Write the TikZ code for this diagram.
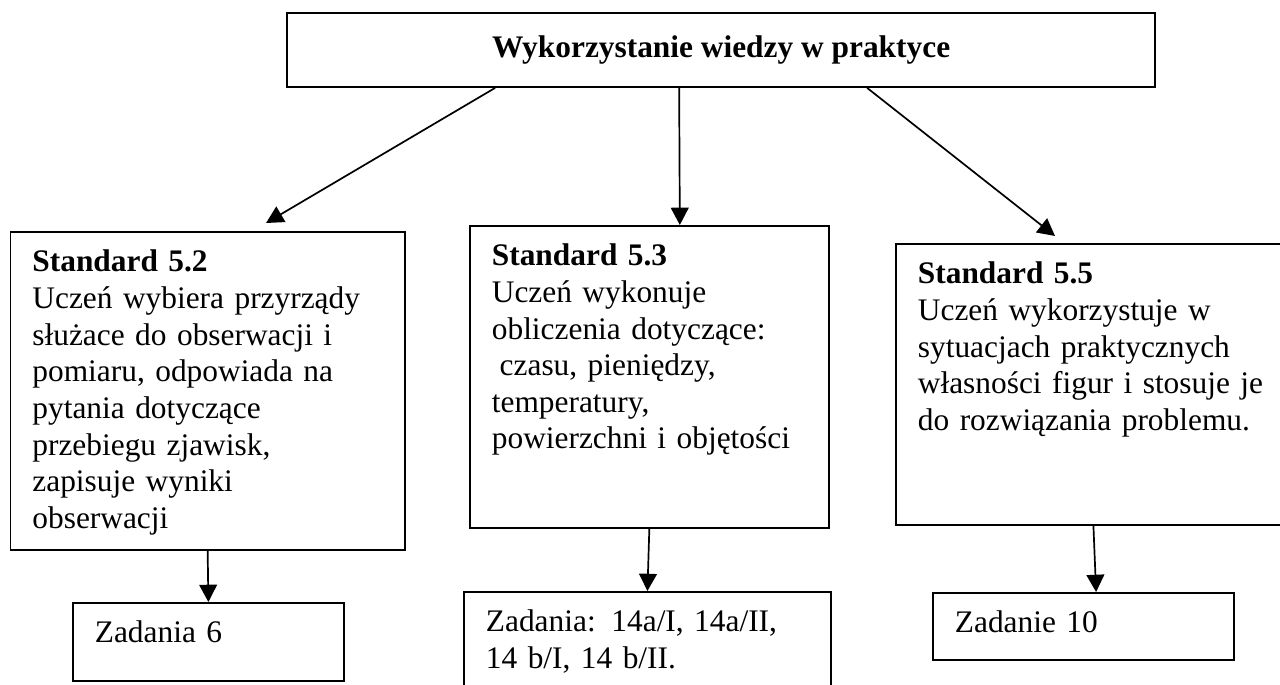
\documentclass[tikz,border=0pt]{standalone}
\usepackage{fontspec}
\setmainfont{Liberation Serif}
\usetikzlibrary{arrows.meta}

\begin{document}
\begin{tikzpicture}[>={Triangle[length=6.6pt,width=6.8pt]},
box/.style={draw=black,line width=0.7pt,anchor=north west,align=left,font=\fontsize{12}{14}\selectfont,inner xsep=8.4pt,inner ysep=5pt,text height=10.3pt},
stdbox/.style={box},
taskbox/.style={box},
titlebox/.style={draw=black,line width=0.7pt,font=\fontsize{12}{14}\selectfont\bfseries},
flow/.style={->,line width=0.65pt,draw=black}]
\useasboundingbox (0,0) rectangle (17.2,-9.19125);
\node[titlebox,minimum width=11.66cm,minimum height=0.994cm] (title) at (9.69,-0.672) {Wykorzystanie wiedzy w praktyce};
\node[stdbox,text width=134pt,text depth=101.3pt] (s52) at (0.128,-3.104)
{\textbf{Standard 5.2}\\Uczeń wybiera przyrządy\\służace do obserwacji i\\pomiaru, odpowiada na\\pytania dotyczące\\przebiegu zjawisk,\\zapisuje wyniki\\obserwacji};
\node[stdbox,text width=120.4pt,text depth=95.2pt] (s53) at (6.302,-3.023)
{\textbf{Standard 5.3}\\Uczeń wykonuje\\obliczenia dotyczące:\\\hspace*{3pt}czasu, pieniędzy,\\temperatury,\\powierzchni i objętości};
\node[stdbox,text width=134.2pt,text depth=87.1pt] (s55) at (12.027,-3.265)
{\textbf{Standard 5.5}\\Uczeń wykorzystuje w\\sytuacjach praktycznych\\własności figur i stosuje je\\do rozwiązania problemu.};
\node[taskbox,text width=86.8pt,text depth=9.5pt] (z6) at (0.9675,-8.089) {Zadania 6};
\node[taskbox,text width=123.5pt,text depth=21.4pt] (z14) at (6.222,-7.942) {Zadania: 14a/I, 14a/II,\\14 b/I, 14 b/II.};
\node[taskbox,text width=98.3pt,text depth=5.3pt] (z10) at (12.524,-7.955) {Zadanie 10};
\draw[flow] ([xshift=-3.037cm]title.south)--([xshift=3.447cm,yshift=0.1075cm]s52.north west);
\draw[flow] ([xshift=-0.564cm]title.south)--([xshift=0.41cm]s53.north);
\draw[flow] ([xshift=1.962cm]title.south)--([xshift=2.15cm,yshift=0.094cm]s55.north west);
\draw[flow] (s52.south)--(z6.north);
\draw[flow] (s53.south)--(z14.north);
\draw[flow] (s55.south)--([xshift=0.17cm]z10.north);
\end{tikzpicture}
\end{document}
